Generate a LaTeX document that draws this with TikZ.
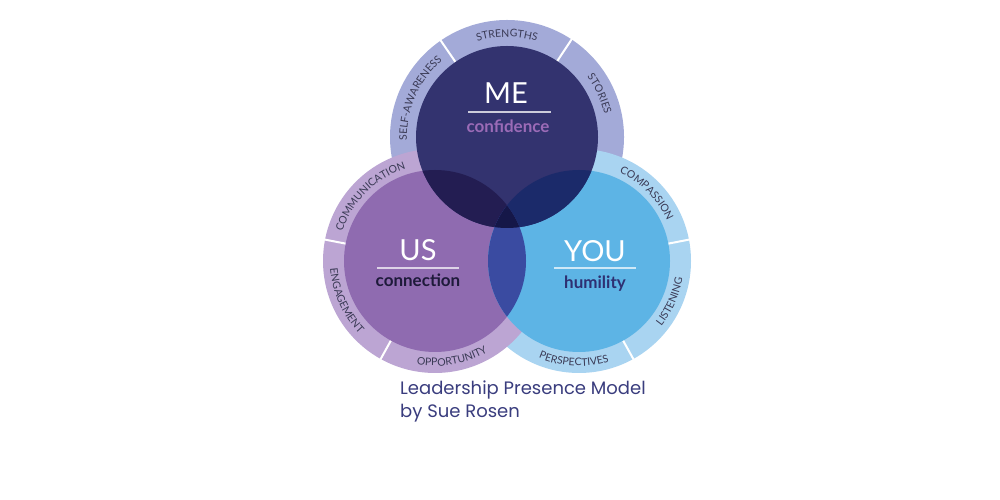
\documentclass[tikz,border=0pt]{standalone}
\usepackage{fontspec}
\setmainfont{Lato}
\newfontfamily\capfont{Poppins}
\usetikzlibrary{decorations.text,calc}
\definecolor{meC}{HTML}{33336F}
\definecolor{usC}{HTML}{8F6BB0}
\definecolor{youC}{HTML}{5DB4E5}
\definecolor{meR}{HTML}{A3AAD8}
\definecolor{usR}{HTML}{BCA5D3}
\definecolor{youR}{HTML}{A9D4F1}
\definecolor{meus}{HTML}{231D52}
\definecolor{meyou}{HTML}{1B2A6A}
\definecolor{usyou}{HTML}{3A4BA1}
\definecolor{allC}{HTML}{151748}
\definecolor{ringtxt}{HTML}{3A3A55}
\definecolor{capC}{HTML}{3A3D7E}
\definecolor{confC}{HTML}{9B6BB7}
\definecolor{connC}{HTML}{1E1A3A}
\definecolor{humC}{HTML}{2E3072}
\newcommand\ringf{\fontsize{10.5}{12}\selectfont}
% clockwise label (letter tops outward)
\newcommand\cwlab[4]{\path[decorate,decoration={text along path,text align=center,text color=ringtxt,text={|\ringf|#4}}]
  ($(#1)+(#2+45:#3)$) arc[start angle=#2+45,end angle=#2-45,radius=#3];}
% counter-clockwise label (letter tops inward)
\newcommand\ccwlab[4]{\path[decorate,decoration={text along path,text align=center,text color=ringtxt,text={|\ringf|#4}}]
  ($(#1)+(#2-45:#3)$) arc[start angle=#2-45,end angle=#2+45,radius=#3];}
\tikzset{
  gap/.style={white,line width=2pt},
  bigl/.style={anchor=base,inner sep=0,font=\fontsize{29}{32}\selectfont},
  subl/.style={anchor=base,inner sep=0,font=\bfseries\fontsize{17}{20}\selectfont},
  capl/.style={anchor=base west,inner sep=0,text=capC,font=\capfont\fontsize{18}{21}\selectfont},
  uline/.style={line width=1.5pt}
}
\begin{document}
\begin{tikzpicture}[x=1pt,y=1pt]
\useasboundingbox (0,0) rectangle (1000,500);
\fill[white] (0,0) rectangle (1000,500);
\coordinate (me) at (507,363);
\coordinate (us) at (435,239);
\coordinate (you) at (579,239);
% outer rings
\fill[meR] (me) circle (117);
\fill[youR] (you) circle (112);
\fill[usR] (us) circle (112);
% ring gaps
\draw[gap] ($(me)+(56.5:89)$) -- ($(me)+(56.5:119)$);
\draw[gap] ($(me)+(124.5:89)$) -- ($(me)+(124.5:119)$);
\draw[gap] ($(us)+(169:89)$) -- ($(us)+(169:114)$);
\draw[gap] ($(us)+(241:89)$) -- ($(us)+(241:114)$);
\draw[gap] ($(you)+(11:89)$) -- ($(you)+(11:114)$);
\draw[gap] ($(you)+(299:89)$) -- ($(you)+(299:114)$);
% main circles
\fill[usC] (us) circle (91);
\fill[youC] (you) circle (91);
\fill[meC] (me) circle (91);
\begin{scope}\clip (me) circle (91); \fill[meus] (us) circle (91); \end{scope}
\begin{scope}\clip (me) circle (91); \fill[meyou] (you) circle (91); \end{scope}
\begin{scope}\clip (us) circle (91); \fill[usyou] (you) circle (91); \end{scope}
\begin{scope}\clip (me) circle (91); \clip (us) circle (91); \fill[allC] (you) circle (91); \end{scope}
% ring labels
\cwlab{me}{156}{100}{SELF-AWARENESS}
\cwlab{me}{90}{100}{STRENGTHS}
\cwlab{me}{25}{100}{STORIES}
\cwlab{us}{135}{97}{COMMUNICATION}
\ccwlab{us}{204}{105}{ENGAGEMENT}
\ccwlab{us}{280}{105}{OPPORTUNITY}
\cwlab{you}{45}{97}{COMPASSION}
\ccwlab{you}{-24}{105}{LISTENING}
\ccwlab{you}{267}{105}{PERSPECTIVES}
% centre labels
\node[bigl,text=white] (meL) at (506,396) {ME};
\draw[uline,color=white!75!meC] (468,388) -- (551,388);
\node[subl,text=confC] (meS) at (508,367) {confidence};
\node[bigl,text=white] (usL) at (418,239) {US};
\draw[uline,color=white!70!usC] (377,232) -- (459,232);
\node[subl,text=connC] (usS) at (418,213) {connection};
\node[bigl,text=white] (youL) at (595,238) {YOU};
\draw[uline,color=white!70!youC] (554,232) -- (636,232);
\node[subl,text=humC] (youS) at (595,211) {humility};
% caption
\node[capl] (cap1) at (400,105) {Leadership Presence Model};
\node[capl] (cap2) at (400,82) {by Sue Rosen};
\end{tikzpicture}
\end{document}
